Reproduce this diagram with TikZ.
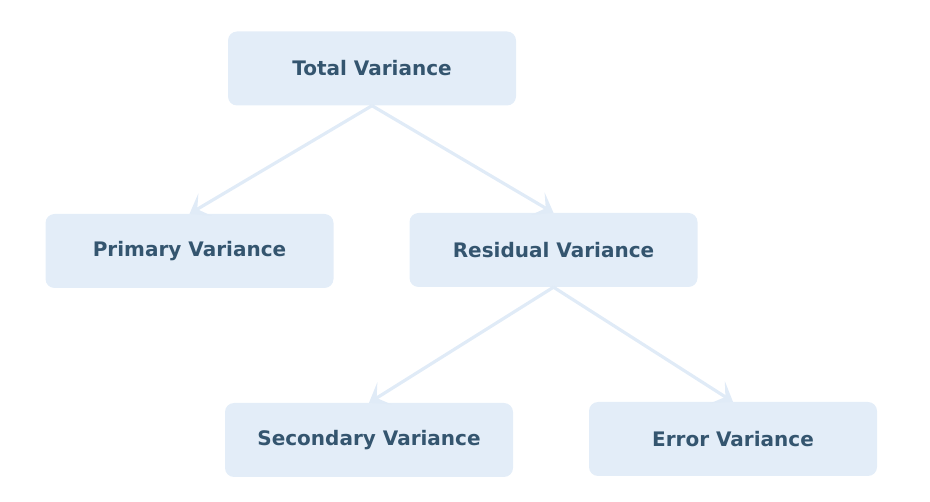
\documentclass[tikz,border=0pt]{standalone}
\usepackage{fontspec}
\setmainfont{DejaVu Sans}
\usetikzlibrary{arrows.meta}
\definecolor{boxfill}{HTML}{E3EDF8}
\definecolor{txt}{HTML}{34556F}
\definecolor{arr}{HTML}{E0EBF7}
\newcommand{\vlabel}[1]{\raisebox{-2pt}{#1}}
\begin{document}
\begin{tikzpicture}[x=1pt,y=-1pt,
  vbox/.style={fill=boxfill, rounded corners=9pt, minimum width=288pt, minimum height=74pt, inner sep=0pt,
    font=\fontsize{20}{24}\selectfont\bfseries, text=txt},
  conn/.style={draw=arr, line width=3.2pt, -{Stealth[length=18pt,width=26pt,inset=9pt]}}]
\useasboundingbox (0,0) rectangle (930,502);
\node[vbox] (total) at (372,68.5) {\vlabel{Total Variance}};
\node[vbox] (primary) at (189.5,251) {\vlabel{Primary Variance}};
\node[vbox] (residual) at (553.5,250) {\vlabel{Residual Variance}};
\node[vbox] (secondary) at (369,440) {\vlabel{Secondary Variance}};
\node[vbox] (error) at (733,439) {\vlabel{Error Variance}};
\draw[conn] (total.south) -- (primary.north);
\draw[conn] (total.south) -- (residual.north);
\draw[conn] (residual.south) -- (secondary.north);
\draw[conn] (residual.south) -- (error.north);
\end{tikzpicture}
\end{document}
